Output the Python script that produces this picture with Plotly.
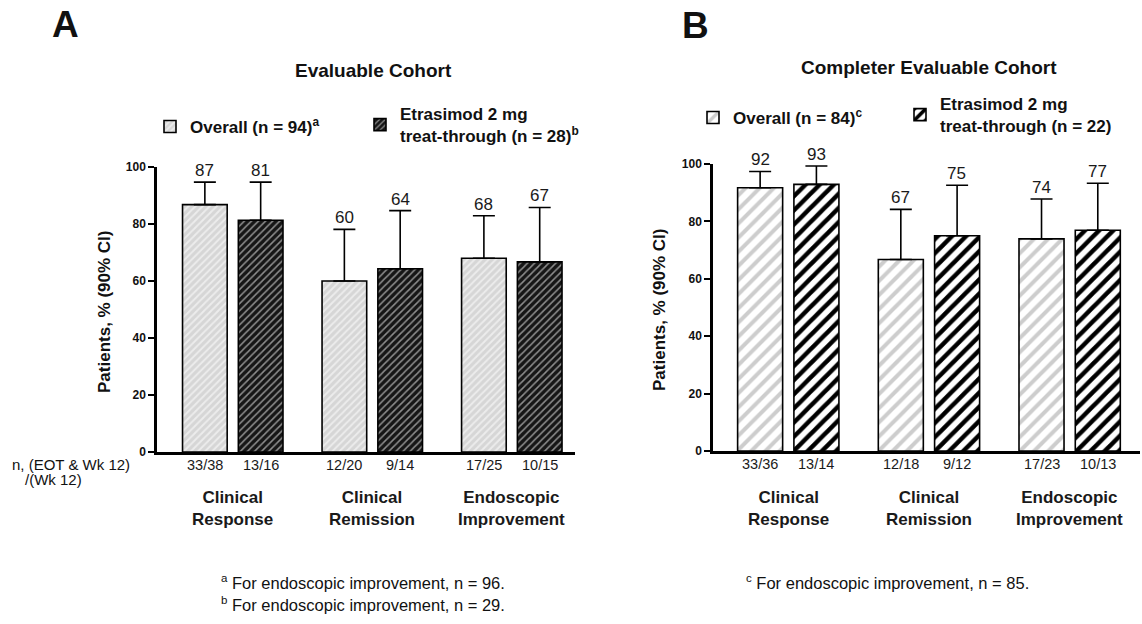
import plotly.graph_objects as go

# ---------------- data ----------------
groups = ["Clinical Response", "Clinical Remission", "Endoscopic Improvement"]
group_labels = ["Clinical<br>Response", "Clinical<br>Remission", "Endoscopic<br>Improvement"]

# Panel A - Evaluable cohort
a_overall = [86.8, 60.0, 68.0]
a_overall_upper = [94.7, 78.1, 82.9]
a_overall_lbl = ["87", "60", "68"]
a_overall_n = ["33/38", "12/20", "17/25"]
a_etr = [81.3, 64.3, 66.7]
a_etr_upper = [94.7, 84.7, 85.8]
a_etr_lbl = ["81", "64", "67"]
a_etr_n = ["13/16", "9/14", "10/15"]

# Panel B - Completer evaluable cohort
b_overall = [91.7, 66.7, 73.9]
b_overall_upper = [97.4, 84.2, 87.8]
b_overall_lbl = ["92", "67", "74"]
b_overall_n = ["33/36", "12/18", "17/23"]
b_etr = [92.9, 75.0, 76.9]
b_etr_upper = [99.3, 92.6, 93.3]
b_etr_lbl = ["93", "75", "77"]
b_etr_n = ["13/14", "9/12", "10/13"]

y_ticks = [0, 20, 40, 60, 80, 100]

W, H = 1142, 624
FONT = "Liberation Sans, Arial, sans-serif"


def px_x(p):
    return p / W


def px_y(p):
    return (H - p) / H


fig = go.Figure()


def add_bar(x_axis, y_axis, vals, upper, name, legend, pattern):
    fig.add_trace(go.Bar(
        x=groups, y=vals, name=name, xaxis=x_axis, yaxis=y_axis, legend=legend,
        marker=dict(color=pattern["bg"], line=dict(color="black", width=1.6),
                    pattern=dict(shape="/", fgcolor=pattern["fg"], bgcolor=pattern["bg"],
                                 size=pattern["size"], solidity=pattern["sol"],
                                 fgopacity=1, fillmode="replace")),
        error_y=dict(type="data", symmetric=False,
                     array=[u - v for u, v in zip(upper, vals)],
                     arrayminus=[0] * len(vals), color="black", thickness=1.6, width=11),
        hoverinfo="skip",
    ))


pat_a_ov = dict(bg="#d6d6d6", fg="#ececec", size=5, sol=0.4)
pat_a_et = dict(bg="#161616", fg="#8e8e8e", size=5, sol=0.3)
pat_b_ov = dict(bg="#ffffff", fg="#cdcdcd", size=10, sol=0.4)
pat_b_et = dict(bg="#ffffff", fg="#000000", size=10, sol=0.45)

add_bar("x", "y", a_overall, a_overall_upper, "Overall (n = 94)<sup>a</sup>", "legend", pat_a_ov)
add_bar("x", "y", a_etr, a_etr_upper, "Etrasimod 2 mg<br>treat-through (n = 28)<sup>b</sup>", "legend2", pat_a_et)
add_bar("x2", "y2", b_overall, b_overall_upper, "Overall (n = 84)<sup>c</sup>", "legend3", pat_b_ov)
add_bar("x2", "y2", b_etr, b_etr_upper, "Etrasimod 2 mg<br>treat-through (n = 22)", "legend4", pat_b_et)

ann = []
OFF = 28  # half distance between the two bars of a group, px


def panel_annotations(xref, yref, ov_up, ov_lbl, ov_n, et_up, et_lbl, et_n):
    for i, g in enumerate(groups):
        for up, lbl, n, sh in ((ov_up[i], ov_lbl[i], ov_n[i], -OFF), (et_up[i], et_lbl[i], et_n[i], OFF)):
            ann.append(dict(x=g, y=up, xref=xref, yref=yref, text=lbl, showarrow=False,
                            xshift=sh, yshift=0, yanchor="bottom",
                            font=dict(size=17, color="#1a1a1a", family=FONT)))
            ann.append(dict(x=g, y=0, xref=xref, yref=yref + " domain", text=n, showarrow=False,
                            xshift=sh, yshift=-3, yanchor="top",
                            font=dict(size=14.5, color="#1a1a1a", family=FONT)))
        ann.append(dict(x=g, y=px_y(508), xref=xref, yref="paper", text="<b>" + group_labels[i] + "</b>",
                        showarrow=False, yanchor="middle",
                        font=dict(size=17, color="#1a1a1a", family=FONT)))


panel_annotations("x", "y", a_overall_upper, a_overall_lbl, a_overall_n, a_etr_upper, a_etr_lbl, a_etr_n)
panel_annotations("x2", "y2", b_overall_upper, b_overall_lbl, b_overall_n, b_etr_upper, b_etr_lbl, b_etr_n)

texts = [
    ("<b>A</b>", 50, 25, "left", 37),
    ("<b>B</b>", 680, 26, "left", 37),
    ("<b>Evaluable Cohort</b>", 373, 70, "center", 19),
    ("<b>Completer Evaluable Cohort</b>", 929, 68, "center", 19),
    ("n, (EOT & Wk 12)", 10, 464, "left", 15),
    ("/(Wk 12)", 23, 480, "left", 15),
    ("<sup>a</sup> For endoscopic improvement, n = 96.", 219, 582, "left", 16.5),
    ("<sup>b</sup> For endoscopic improvement, n = 29.", 219, 604, "left", 16.5),
    ("<sup>c</sup> For endoscopic improvement, n = 85.", 744, 582, "left", 16.5),
]
for t, x, y, anc, s in texts:
    ann.append(dict(x=px_x(x), y=px_y(y), xref="paper", yref="paper", text=t, showarrow=False,
                    xanchor=anc, yanchor="middle", font=dict(size=s, color="#111", family=FONT)))

for t, x, y in (("<b>Patients, % (90% CI)</b>", 104, 312), ("<b>Patients, % (90% CI)</b>", 659, 310)):
    ann.append(dict(x=px_x(x), y=px_y(y), xref="paper", yref="paper", text=t, showarrow=False,
                    textangle=-90, xanchor="center", yanchor="middle",
                    font=dict(size=17, color="#111", family=FONT)))

yax_common = dict(range=[0, 100], tickvals=y_ticks, ticktext=[str(v) for v in y_ticks],
                  ticks="outside", ticklen=6, tickwidth=2, tickcolor="black",
                  showline=True, linewidth=2.5, linecolor="black", showgrid=False, zeroline=False,
                  tickfont=dict(size=12, family=FONT, color="#111", weight="bold"))
xax_common = dict(showline=True, linewidth=2.5, linecolor="black", showgrid=False, zeroline=False,
                  ticks="", showticklabels=False, type="category")

leg_font = dict(size=17, family=FONT, color="#111", weight="bold")


def leg(x, y):
    return dict(orientation="v", x=px_x(x), y=px_y(y), xanchor="left", yanchor="middle",
                valign="middle", font=leg_font, bgcolor="rgba(0,0,0,0)")


fig.update_layout(
    width=W, height=H, margin=dict(l=0, r=0, t=0, b=0, autoexpand=False),
    paper_bgcolor="white", plot_bgcolor="white",
    font=dict(family=FONT, color="#111"),
    barmode="group", bargap=0.2, bargroupgap=0.2,
    showlegend=True,
    xaxis=dict(domain=[px_x(157), px_x(575)], range=[-0.543, 2.453], anchor="y", **xax_common),
    yaxis=dict(domain=[px_y(452), px_y(167)], anchor="x", **yax_common),
    xaxis2=dict(domain=[px_x(713), px_x(1140)], range=[-0.535, 2.50], anchor="y2", **xax_common),
    yaxis2=dict(domain=[px_y(451), px_y(164)], anchor="x2", **yax_common),
    legend=leg(150, 127),
    legend2=leg(360, 125),
    legend3=leg(693, 118),
    legend4=leg(900, 115),
    annotations=ann,
)

fig.write_html("out.html", config={"displayModeBar": False},
               post_script="document.body.style.margin='0';")
